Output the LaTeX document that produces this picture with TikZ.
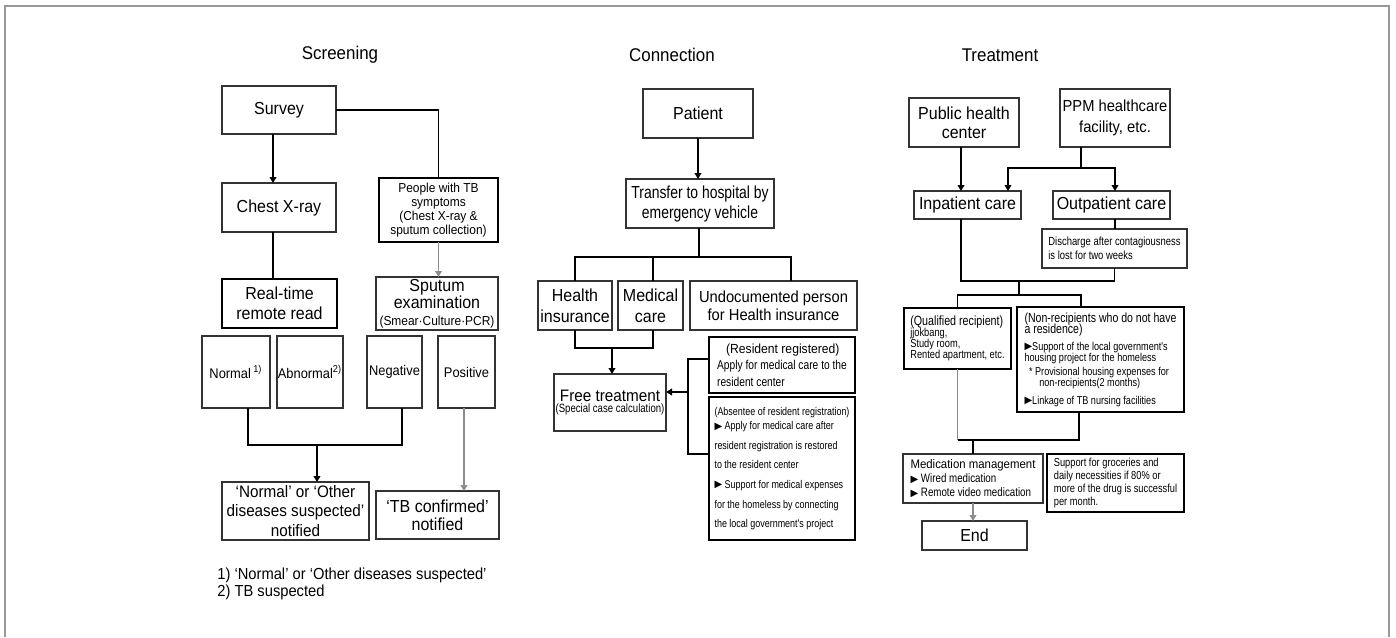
\documentclass[tikz,border=0pt]{standalone}
\usepackage{fontspec}
\setmainfont{Liberation Sans}
\newfontfamily\mainf[FakeStretch=0.92]{Liberation Sans}
\newfontfamily\narf[FakeStretch=0.8]{Liberation Sans}
\newfontfamily\symf{DejaVu Sans}
\usetikzlibrary{arrows.meta,calc}
\newcommand\tri{{\symf\fontsize{5}{5}\selectfont\raisebox{0.1ex}{▶}}}
\newcommand\tightls{\lineskiplimit-5pt\relax}
\tikzset{
  corners/.style args={(#1,#2)(#3,#4)}{at={({(#1+#3)/2},{(#2+#4)/2})},
     minimum width={(#3-#1)*0.5pt}, minimum height={(#4-#2)*0.5pt}},
  box/.style={draw=black!80, line width=0.6pt, inner sep=0pt, outer sep=0pt, align=center},
  tbox/.style={box, draw=black, line width=1.1pt},
  fA/.style={font=\mainf\fontsize{8.7}{10}\selectfont},
  fN/.style={font=\mainf\fontsize{7}{8}\selectfont},
  ttl/.style={font=\mainf\fontsize{9.2}{11}\selectfont},
  ln/.style={draw=black, line width=0.6pt},
  gln/.style={draw=black!45, line width=0.6pt},
  arr/.style={-{Triangle[length=3pt,width=3.4pt]}},
}
\begin{document}
\begin{tikzpicture}[x=0.5pt,y=-0.5pt]
\useasboundingbox (0,0) rectangle (1396,637);
\draw[black!40, line width=1.2pt] (5,637) -- (5,6) -- (1389,6) -- (1389,637);

% titles
\node[ttl] (t-scr) at (340,55) {Screening};
\node[ttl] (t-con) at (672,55) {Connection};
\node[ttl] (t-tre) at (1000,55) {Treatment};

% ---------------- Screening ----------------
\node[box,fA,corners={(222,86)(336,134)}] (survey) {Survey};
\node[box,fA,corners={(222,183)(336,232)}] (chest) {Chest X-ray};
\node[tbox,font=\mainf\fontsize{6.5}{7}\selectfont,corners={(379,178)(498,242)}] (people)
  {People with TB\\symptoms\\(Chest X-ray \&\\sputum collection)};
\node[tbox,fA,corners={(222,279)(337,328)}] (realtime) {Real-time\\remote read};
\node[box,font=\mainf\fontsize{8.7}{8.6}\selectfont,corners={(376,277)(498,330)}] (sputum)
  {Sputum\\examination\\{\fontsize{6.5}{7}\selectfont (Smear·Culture·PCR)}};
\node[box,fN,corners={(202,336)(270,408)}] (normal) {Normal\,\textsuperscript{1)}};
\node[box,fN,corners={(277,336)(343,408)}] (abnormal) {Abnormal\textsuperscript{2)}};
\node[box,fN,corners={(367,336)(422,408)}] (negative) {Negative};
\node[box,fN,corners={(438,336)(495,408)}] (positive) {Positive};
\node[box,font=\mainf\fontsize{8.3}{9.7}\selectfont,corners={(222,482)(369,540)}] (notif1)
  {‘Normal’ or ‘Other\\diseases suspected’\\notified};
\node[box,font=\mainf\fontsize{8.7}{9}\selectfont,corners={(376,491)(499,539)}] (tbconf)
  {‘TB confirmed’\\notified};
\node[anchor=west,font=\mainf\fontsize{8}{9}\selectfont,inner sep=0pt] (fn1) at (217,575)
  {1) ‘Normal’ or ‘Other diseases suspected’};
\node[anchor=west,font=\mainf\fontsize{8}{9}\selectfont,inner sep=0pt] (fn2) at (217,592)
  {2) TB suspected};

\draw[ln,arr] ([xshift=-3pt]survey.south) -- ([xshift=-3pt]chest.north);
\draw[ln] (survey.east) -| (people.north);
\draw[gln,arr] (people.south) -- (people.south |- sputum.north);
\draw[ln] ([xshift=-3pt]chest.south) -- ([xshift=-3pt]chest.south |- realtime.north);
\coordinate (j1) at (317,445);
\draw[ln] ([xshift=6pt]normal.south) |- (j1) -| ([xshift=3.75pt]negative.south);
\draw[ln,arr] (j1) -- (j1 |- notif1.north);
\draw[gln,arr] ([xshift=-1.25pt]positive.south) -- ([xshift=-1.25pt]positive.south |- tbconf.north);

% ---------------- Connection ----------------
\node[box,fA,corners={(643,89)(753,138)}] (patient) {Patient};
\node[box,font=\narf\fontsize{8.7}{10}\selectfont,corners={(626,179)(774,228)}] (transfer)
  {Transfer to hospital by\\emergency vehicle};
\node[box,font=\mainf\fontsize{8.7}{10.3}\selectfont,corners={(538,281)(612,330)}] (health) {Health\\insurance};
\node[box,font=\mainf\fontsize{8.7}{10.3}\selectfont,corners={(618,281)(683,330)}] (medical) {Medical\\care};
\node[box,font=\mainf\fontsize{8}{9}\selectfont,corners={(690,281)(857,330)}] (undoc)
  {Undocumented person\\for Health insurance};
\node[box,font=\mainf\fontsize{8.3}{5.5}\selectfont\tightls,corners={(554,374)(666,431)}] (free)
  {Free treatment\\{\narf\fontsize{6}{5}\selectfont (Special case calculation)}};
\node[tbox,font=\narf\fontsize{6.4}{8.25}\selectfont,align=left,corners={(709,337)(855,393)}] (resident)
  {\hspace*{4.5pt}{\mainf\fontsize{6.6}{8}\selectfont(Resident registered)}\\
   Apply for medical care to the\\resident center};
\node[tbox,font=\narf\fontsize{5.6}{9.8}\selectfont,align=left,corners={(709,397)(855,540)}] (absentee)
  {(Absentee of resident registration)\\[-2.5pt]
   \tri\ Apply for medical care after\\
   resident registration is restored\\
   to the resident center\\
   \tri\ Support for medical expenses\\
   for the homeless by connecting\\
   the local government's project};

\draw[ln,arr] (patient.south) -- (patient.south |- transfer.north);
\coordinate (m1) at (699,257);
\draw[ln] (transfer.south -| m1) -- (m1);
\draw[ln] (health.north) |- (m1) -| ([xshift=8.75pt]undoc.north);
\draw[ln] ([xshift=1.25pt]medical.north) -- ([xshift=1.25pt]medical.north |- m1);
\coordinate (m2) at (612,348);
\draw[ln] (health.south) |- (m2) -| ([xshift=1.25pt]medical.south);
\draw[ln,arr] (m2) -- (m2 |- free.north);
\coordinate (br) at (688,392);
\draw[ln] ($(resident.west)+(0,-6)$) -| (br);
\draw[ln] ($(absentee.west)+(0,-14.5)$) -| (br);
\draw[ln,arr] (br) -- (br -| free.east);

% ---------------- Treatment ----------------
\node[box,font=\mainf\fontsize{8.7}{9.5}\selectfont,corners={(909,98)(1019,147)}] (public) {Public health\\center};
\node[box,font=\mainf\fontsize{8}{10.5}\selectfont,corners={(1060,89)(1170,147)}] (ppm) {PPM healthcare\\facility, etc.};
\node[box,fA,corners={(914,191)(1021,219)}] (inpatient) {Inpatient care};
\node[box,fA,corners={(1053,191)(1170,219)}] (outpatient) {Outpatient care};
\node[box,font=\narf\fontsize{5.9}{7}\selectfont,align=left,corners={(1042,229)(1187,268)}] (discharge)
  {Discharge after contagiousness\\is lost for two weeks};
\node[tbox,font=\narf\fontsize{5.8}{5.6}\selectfont\tightls,align=left,corners={(904,308)(1011,369)}] (qualified)
  {{\fontsize{6.7}{5.6}\selectfont(Qualified recipient)}\\jjokbang,\\Study room,\\Rented apartment, etc.};
\node[tbox,font=\narf\fontsize{5.7}{5.6}\selectfont\tightls,align=left,corners={(1017,307)(1184,412)}] (nonrec)
  {{\fontsize{6.6}{5.5}\selectfont(Non-recipients who do not have}\\
   {\fontsize{6.6}{5.5}\selectfont a residence)}\\[3pt]
   \tri Support of the local government's\\
   housing project for the homeless\\[1.5pt]
   \hspace*{0.4em}* Provisional housing expenses for\\[-0.5pt]
   \hspace*{1.3em}non-recipients(2 months)\\[3.5pt]
   \tri Linkage of TB nursing facilities};
\node[box,font=\narf\fontsize{6.1}{7}\selectfont,align=left,corners={(903,454)(1043,503)}] (medication)
  {{\mainf\fontsize{6.2}{7}\selectfont Medication management}\\
   \tri\ Wired medication\\
   \tri\ Remote video medication};
\node[tbox,font=\narf\fontsize{5.8}{6.4}\selectfont,align=left,corners={(1047,454)(1184,512)}] (support)
  {Support for groceries and\\daily necessities if 80\% or\\more of the drug is successful\\per month.};
\node[box,fA,corners={(922,521)(1027,550)}] (endn) {End};

\draw[ln,arr] ([xshift=-1.5pt]public.south) -- ([xshift=-1.5pt]public.south |- inpatient.north);
\coordinate (t1) at (1081,168);
\draw[ln] (ppm.south -| t1) -- (t1);
\draw[ln,arr] (t1) -| ([xshift=20.25pt]inpatient.north);
\draw[ln,arr] (t1) -| ([xshift=1.75pt]outpatient.north);
\draw[ln] ([xshift=1.75pt]outpatient.south) -- ([xshift=1.75pt]outpatient.south |- discharge.north);
\coordinate (t2) at (1019,281);
\draw[ln] ([xshift=-3.25pt]inpatient.south) |- (t2) -| (discharge.south);
\coordinate (t3) at (1019,295);
\draw[ln] (t2) -- (t3);
\draw[ln] (qualified.north) |- (t3) -| ([xshift=-9.75pt]nonrec.north);
\coordinate (t4) at (973,440);
\draw[gln] (qualified.south) -- (qualified.south |- t4);
\draw[ln] (qualified.south |- t4) -| ([xshift=-10.75pt]nonrec.south);
\draw[ln] (t4) -- (t4 |- medication.north);
\draw[gln,arr] (medication.south) -- (medication.south |- endn.north);
\end{tikzpicture}
\end{document}
